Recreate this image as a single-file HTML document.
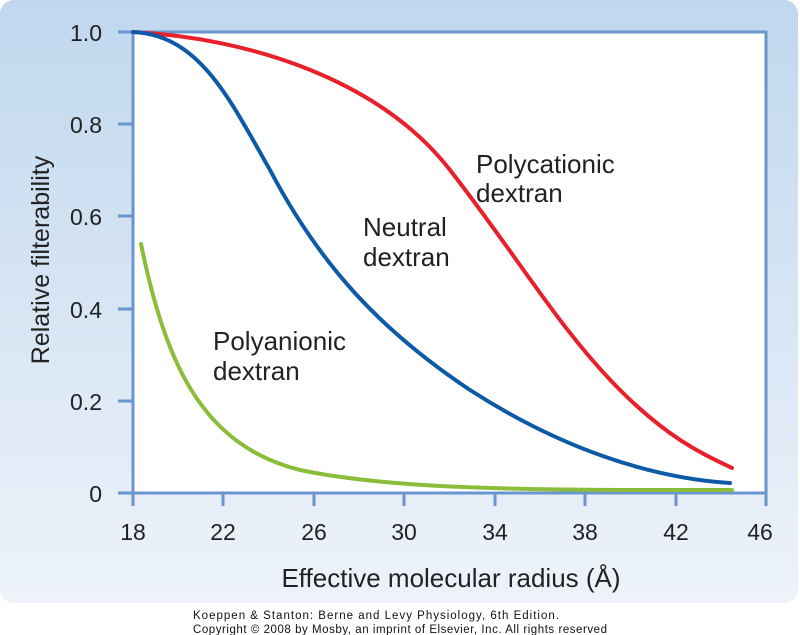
<!DOCTYPE html>
<html><head><style>
body{margin:0;background:#fff;}
svg{display:block;font-family:"Liberation Sans",Arial,sans-serif;}
</style></head><body>
<svg width="800" height="635" viewBox="0 0 800 635">
<defs><linearGradient id="g" x1="0" y1="0" x2="0" y2="1">
<stop offset="0" stop-color="#c0d7ee"/><stop offset="1" stop-color="#eef3fa"/></linearGradient></defs>
<rect x="0" y="0" width="798" height="603" rx="14" fill="url(#g)"/>
<rect x="133" y="32" width="633" height="461" fill="#fff" stroke="#6a96cf" stroke-width="3"/>
<g stroke="#6a96cf" stroke-width="3">
<line x1="118" y1="32" x2="133" y2="32"/><line x1="118" y1="124" x2="133" y2="124"/>
<line x1="118" y1="216" x2="133" y2="216"/><line x1="118" y1="309" x2="133" y2="309"/>
<line x1="118" y1="401" x2="133" y2="401"/><line x1="118" y1="493" x2="133" y2="493"/>
<line x1="133" y1="493" x2="133" y2="506"/><line x1="223" y1="493" x2="223" y2="506"/>
<line x1="314" y1="493" x2="314" y2="506"/><line x1="404" y1="493" x2="404" y2="506"/>
<line x1="495" y1="493" x2="495" y2="506"/><line x1="585" y1="493" x2="585" y2="506"/>
<line x1="676" y1="493" x2="676" y2="506"/><line x1="766" y1="493" x2="766" y2="506"/>
</g>
<g font-size="23" fill="#222" text-anchor="end">
<text x="102" y="41">1.0</text><text x="102" y="133">0.8</text><text x="102" y="225">0.6</text>
<text x="102" y="318">0.4</text><text x="102" y="410">0.2</text><text x="102" y="502">0</text>
</g>
<g font-size="23" fill="#222" text-anchor="middle">
<text x="133" y="540">18</text><text x="223" y="540">22</text><text x="314" y="540">26</text>
<text x="404" y="540">30</text><text x="495" y="540">34</text><text x="585" y="540">38</text>
<text x="676" y="540">42</text><text x="760" y="540">46</text>
<text x="451" y="587" font-size="26">Effective molecular radius (Å)</text>
<text transform="translate(49,260) rotate(-90)" font-size="25">Relative filterability</text>
</g>
<g fill="none" stroke-width="4" stroke-linecap="round">
<path stroke="#e8202a" d="M133,32 C250,38 380,80 450,170 C520,260 560,330 620,390 C670,440 705,455 732,468"/>
<path stroke="#0d5aa7" d="M133,32 C200,35 230,100 270,170 C320,265 380,330 470,390 C560,448 650,478 730,483"/>
<path stroke="#8cbd3a" d="M141,244 C165,360 200,445 300,470 C400,491 550,490 732,490"/>
</g>
<g font-size="26" fill="#222">
<text x="476" y="173">Polycationic</text><text x="476" y="202">dextran</text>
<text x="363" y="236">Neutral</text><text x="363" y="266">dextran</text>
<text x="213" y="350">Polyanionic</text><text x="213" y="380">dextran</text>
</g>
<g font-size="11.5" fill="#111">
<text x="193" y="619" textLength="366">Koeppen &amp; Stanton: Berne and Levy Physiology, 6th Edition.</text>
<text x="193" y="633" textLength="414">Copyright © 2008 by Mosby, an imprint of Elsevier, Inc. All rights reserved</text>
</g>
</svg>
</body></html>
